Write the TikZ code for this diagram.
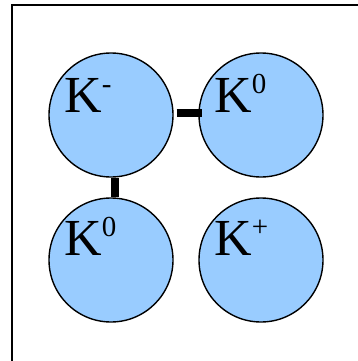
\documentclass[tikz,border=0pt]{standalone}
\usepackage{fontspec}
\setmainfont{Liberation Serif}
\definecolor{ballblue}{HTML}{99CCFF}
\newcommand{\kbig}{\fontsize{52}{52}\selectfont}
\newcommand{\ksup}[1]{\raisebox{19pt}{\fontsize{29}{29}\selectfont #1}}
\begin{document}
\begin{tikzpicture}[x=1pt,y=-1pt,
  ball/.style={circle,draw=black,line width=1.4pt,fill=ballblue,minimum size=124pt,inner sep=0pt},
  klabel/.style={anchor=base west,inner sep=0pt},
  conn/.style={line width=8pt,black},
  frameline/.style={line width=2pt,black}]
\useasboundingbox (0,0) rectangle (358,361);
\coordinate (fl) at (12,361);
\coordinate (fr) at (358,5);
\draw[frameline] (fl) -- (12,5) -- (fr);
\node[ball] (b1) at (111,115) {};
\node[ball] (b2) at (261,115) {};
\node[ball] (b3) at (111,260) {};
\node[ball] (b4) at (261,260) {};
\draw[conn] ([shift={(3,-2)}]b1.east) -- ([shift={(4,-2)}]b2.west);
\draw[conn] ([shift={(4,0)}]b1.south) -- ([shift={(4,0)}]b3.north);
\node[klabel] (t1) at (64,112) {\kbig Κ\ksup{-}};
\node[klabel] (t2) at (214,112) {\kbig Κ\ksup{0}};
\node[klabel] (t3) at (64,255) {\kbig Κ\ksup{0}};
\node[klabel] (t4) at (214,255) {\kbig Κ\ksup{+}};
\end{tikzpicture}
\end{document}
